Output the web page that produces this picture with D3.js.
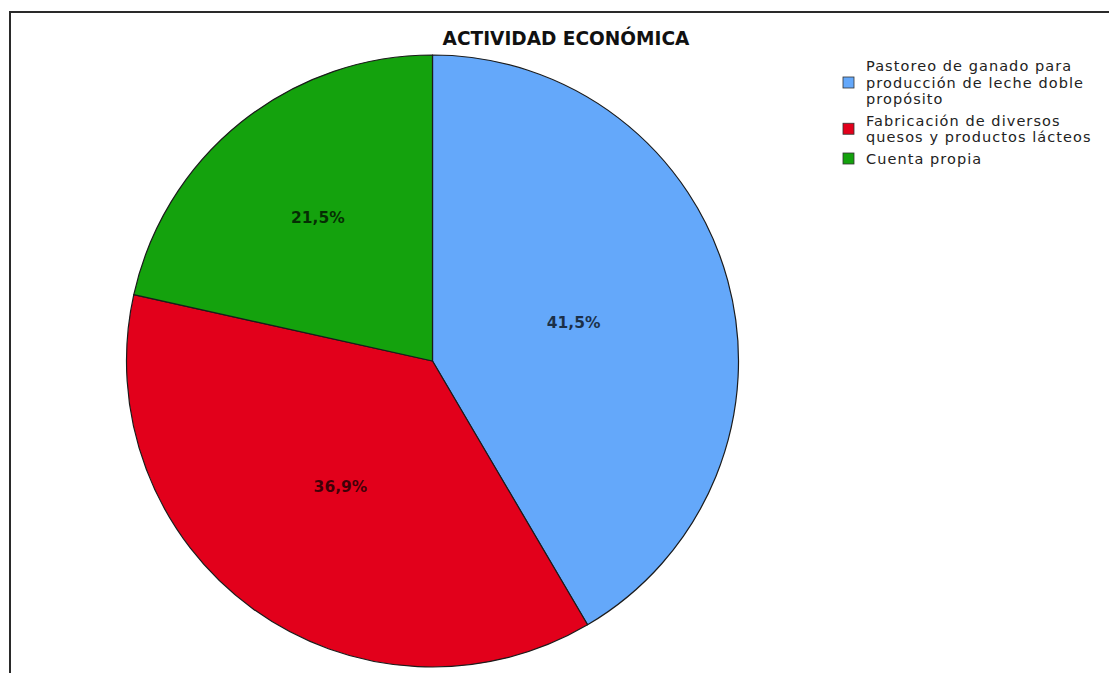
<!DOCTYPE html>
<html>
<head>
<meta charset="utf-8">
<script src="https://cdn.jsdelivr.net/npm/d3@7"></script>
<style>
  html, body { margin: 0; padding: 0; background: #fff; }
  svg { display: block; }
</style>
</head>
<body>
<svg id="chart" width="1109" height="673"></svg>
<script>
// Chart data
const title = "ACTIVIDAD ECONÓMICA";
const categories = [
  "Pastoreo de ganado para producción de leche doble propósito",
  "Fabricación de diversos quesos y productos lácteos",
  "Cuenta propia"
];
const legendLines = [
  ["Pastoreo de ganado para", "producción de leche doble", "propósito"],
  ["Fabricación de diversos", "quesos y productos lácteos"],
  ["Cuenta propia"]
];
const percentages = [41.5, 36.9, 21.5];
const colors = ["#64a8fa", "#e2001b", "#14a20d"];

const W = 1109, H = 673;
const svg = d3.select("#chart");

// Outer frame (top and left edges)
svg.append("path")
  .attr("d", `M10,${H} L10,12 L${W},12`)
  .attr("fill", "none")
  .attr("stroke", "#2a2a2a")
  .attr("stroke-width", 2);

// Pie geometry
const cx = 432.5, cy = 361, r = 306;
const g = svg.append("g").attr("transform", `translate(${cx},${cy})`);

const pie = d3.pie().sort(null).value(d => d);
const arcs = pie(percentages);
const arc = d3.arc().innerRadius(0).outerRadius(r);

g.selectAll("path.slice")
  .data(arcs)
  .join("path")
  .attr("class", "slice")
  .attr("d", arc)
  .attr("fill", (d, i) => colors[i])
  .attr("stroke", "#1b1b1b")
  .attr("stroke-width", 1.2)
  .attr("stroke-linejoin", "round");

// Percentage labels placed near each sector's centroid
const fmt = v => d3.format(".1f")(v).replace(".", ",") + "%";
g.selectAll("text.pct")
  .data(arcs)
  .join("text")
  .attr("class", "pct")
  .attr("transform", d => {
    const half = (d.endAngle - d.startAngle) / 2;
    const mid = (d.startAngle + d.endAngle) / 2;
    const dist = 0.97 * (2 / 3) * r * Math.sin(half) / half;
    return `translate(${dist * Math.sin(mid)},${-dist * Math.cos(mid)})`;
  })
  .attr("text-anchor", "middle")
  .attr("dominant-baseline", "central")
  .attr("font-family", "'DejaVu Sans', sans-serif")
  .attr("font-weight", "bold")
  .attr("font-size", 15.5)
  .attr("fill", "#000")
  .attr("fill-opacity", 0.72)
  .text(d => fmt(d.data));

// Title
const titleText = svg.append("text")
  .attr("x", 566)
  .attr("y", 38)
  .attr("text-anchor", "middle")
  .attr("dominant-baseline", "central")
  .attr("font-family", "'DejaVu Sans', sans-serif")
  .attr("font-weight", "bold")
  .attr("font-size", 16)
  .attr("fill", "#111")
  .text(title);
// scale font so the title spans its intended width
{
  const w = titleText.node().getComputedTextLength();
  titleText.attr("font-size", 16 * 247 / w);
}

// Legend
const legend = svg.append("g").attr("class", "legend");
const lineH = 16.5, itemGap = 5, textX = 866, swX = 843, sw = 11;
const legendFont = "'DejaVu Sans', sans-serif";
const legendSize = 14.5;

// letter spacing chosen so the widest line spans the legend column
const probe = legend.append("text")
  .attr("font-family", legendFont)
  .attr("font-size", legendSize)
  .text(legendLines[0][1]);
const probeW = probe.node().getComputedTextLength();
const spacing = (217 - probeW) / (legendLines[0][1].length - 1);
probe.remove();

let y = 66;
legendLines.forEach((lines, i) => {
  const top = y;
  lines.forEach((ln, j) => {
    legend.append("text")
      .attr("x", textX)
      .attr("y", top + j * lineH)
      .attr("dominant-baseline", "central")
      .attr("font-family", legendFont)
      .attr("font-size", legendSize)
      .attr("letter-spacing", spacing)
      .attr("fill", "#222")
      .text(ln);
  });
  const midY = top + (lines.length - 1) * lineH / 2;
  legend.append("rect")
    .attr("x", swX)
    .attr("y", midY - sw / 2)
    .attr("width", sw)
    .attr("height", sw)
    .attr("fill", colors[i])
    .attr("stroke", "#333")
    .attr("stroke-width", 0.8)
    .append("title").text(categories[i]);
  y = top + lines.length * lineH + itemGap;
});
</script>
</body>
</html>
